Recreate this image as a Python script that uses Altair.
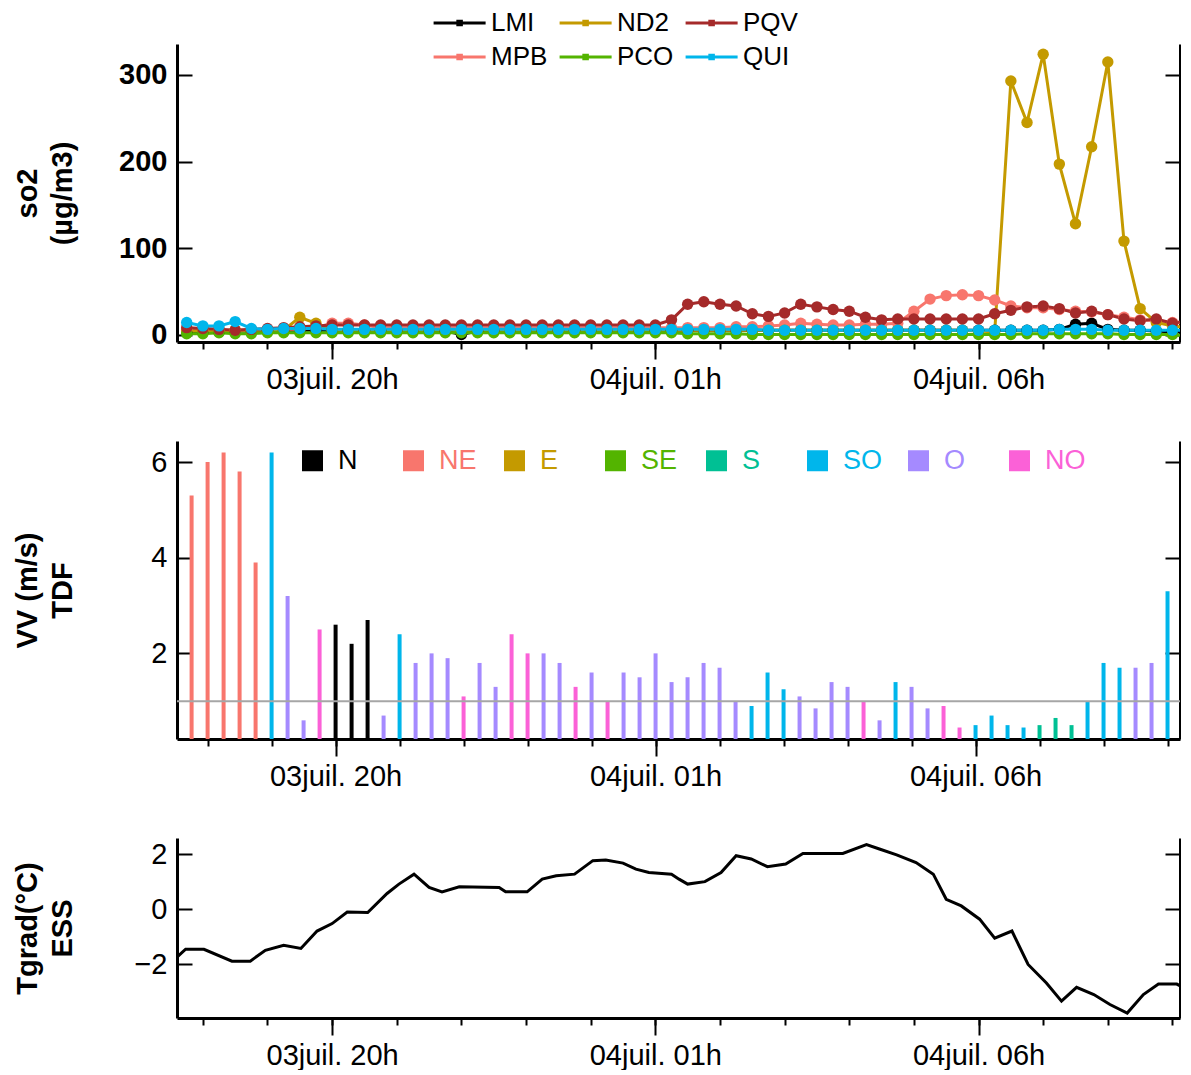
import altair as alt
import pandas as pd

FONT = "Liberation Sans"
W = 1003
H1, H2, H3 = 298, 298, 180

# ---------------- data ----------------
times = pd.date_range("2019-07-03 17:45", periods=63, freq="15min")
time_str = [t.strftime("%Y-%m-%dT%H:%M:%S") for t in times]

stations = ["LMI", "MPB", "ND2", "PCO", "PQV", "QUI"]
station_colors = ["#000000", "#F8766D", "#C49A00", "#53B400", "#A52A2A", "#00B6EB"]

LMI = [3, 3, 3, 4, 4, 5, 5, 5, 5,
       5, 5, 5, 5, 5, 5, 5, 4, 0,
       4, 5, 5, 5, 5, 5, 5, 5, 5,
       5, 5, 5, 5, 5, 5, 5, 5, 5,
       5, 5, 5, 5, 5, 5, 5, 5, 5,
       5, 5, 5, 5, 5, 5, 5, 5, 5,
       6, 12, 13, 6, 5, 5, 4, 3, 3]
MPB = [5, 5, 5, 5, 5, 6, 6, 6, 8,
       13, 13, 11, 8, 8, 8, 8, 8, 8,
       8, 8, 8, 8, 8, 8, 8, 8, 8,
       8, 8, 8, 8, 8, 8, 8, 9, 9,
       10, 11, 13, 12, 11, 11, 12, 12, 13,
       27, 41, 45, 46, 45, 40, 33, 31, 31,
       29, 27, 26, 23, 20, 17, 16, 14, 13]
ND2 = [4, 4, 4, 5, 5, 5, 5, 20, 13,
       5, 5, 5, 5, 5, 5, 5, 5, 5,
       5, 5, 5, 5, 5, 5, 5, 5, 5,
       5, 5, 5, 5, 5, 5, 5, 5, 5,
       5, 5, 5, 5, 5, 5, 5, 5, 5,
       5, 5, 5, 5, 4, 3, 293, 245, 324,
       197, 128, 217, 315, 108, 30, 14, 10, 8]
PCO = [1, 1, 2, 1, 1, 2, 2, 2, 2,
       2, 2, 2, 2, 2, 2, 2, 2, 2,
       2, 2, 2, 2, 2, 2, 2, 2, 2,
       2, 2, 2, 2, 1, 1, 1, 1, 0,
       0, 0, 0, 0, 0, 0, 0, 0, 0,
       0, 0, 0, 0, 0, 0, 0, 1, 1,
       1, 1, 1, 1, 0, 0, 0, 0, -2]
PQV = [8, 7, 6, 5, 6, 7, 8, 9, 10,
       11, 11, 11, 11, 11, 11, 11, 11, 11,
       11, 11, 11, 11, 11, 11, 11, 11, 11,
       11, 11, 11, 17, 35, 38, 35, 33, 24,
       21, 25, 35, 32, 29, 27, 20, 17, 18,
       18, 18, 18, 18, 18, 24, 28, 32, 33,
       30, 25, 27, 23, 18, 16, 18, 13, 16]
QUI = [14, 10, 10, 15, 7, 6, 7, 7, 7,
       6, 6, 6, 6, 6, 6, 6, 6, 6,
       6, 6, 6, 6, 6, 6, 6, 6, 6,
       6, 6, 6, 6, 6, 6, 6, 6, 6,
       5, 5, 5, 5, 5, 5, 5, 5, 5,
       5, 5, 5, 5, 5, 5, 5, 5, 5,
       6, 6, 6, 5, 5, 5, 5, 5, 5]
so2_series = {"LMI": LMI, "MPB": MPB, "ND2": ND2, "PCO": PCO, "PQV": PQV, "QUI": QUI}

wind_speed = [5.3, 6.0, 6.2, 5.8, 3.9, 6.2, 3.2, 0.6, 2.5,
              2.6, 2.2, 2.7, 0.7, 2.4, 1.8, 2.0, 1.9, 1.1,
              1.8, 1.3, 2.4, 2.0, 2.0, 1.8, 1.3, 1.6, 1.0,
              1.6, 1.5, 2.0, 1.4, 1.5, 1.8, 1.7, 1.0, 0.9,
              1.6, 1.25, 1.1, 0.85, 1.4, 1.3, 1.0, 0.6, 1.4,
              1.3, 0.85, 0.9, 0.45, 0.5, 0.7, 0.5, 0.45, 0.5,
              0.65, 0.5, 1.0, 1.8, 1.7, 1.7, 1.8, 3.3, 2.8]
wind_dir = ["NE", "NE", "NE", "NE", "NE", "SO", "O", "O", "NO",
            "N", "N", "N", "O", "SO", "O", "O", "O", "NO",
            "O", "O", "NO", "NO", "O", "O", "NO", "O", "NO",
            "O", "O", "O", "O", "O", "O", "O", "O", "SO",
            "SO", "SO", "O", "O", "O", "O", "NO", "O", "SO",
            "O", "O", "NO", "NO", "SO", "SO", "SO", "SO", "S",
            "S", "S", "SO", "SO", "SO", "O", "O", "SO", "O"]
dir_order = ["N", "NE", "E", "SE", "S", "SO", "O", "NO"]
dir_colors = ["#000000", "#F8766D", "#C49A00", "#53B400", "#00C094", "#00B6EB", "#A58AFF", "#FB61D7"]

tgrad_time = ["2019-07-03T17:37:00", "2019-07-03T17:44:00", "2019-07-03T18:01:00", "2019-07-03T18:27:00",
              "2019-07-03T18:44:00", "2019-07-03T18:58:00", "2019-07-03T19:15:00", "2019-07-03T19:31:00",
              "2019-07-03T19:46:00", "2019-07-03T20:00:00", "2019-07-03T20:14:00", "2019-07-03T20:33:00",
              "2019-07-03T20:51:00", "2019-07-03T21:02:00", "2019-07-03T21:16:00", "2019-07-03T21:30:00",
              "2019-07-03T21:42:00", "2019-07-03T21:58:00", "2019-07-03T22:35:00", "2019-07-03T22:41:00",
              "2019-07-03T23:01:00", "2019-07-03T23:15:00", "2019-07-03T23:28:00", "2019-07-03T23:45:00",
              "2019-07-04T00:02:00", "2019-07-04T00:14:00", "2019-07-04T00:30:00", "2019-07-04T00:42:00",
              "2019-07-04T00:54:00", "2019-07-04T01:15:00", "2019-07-04T01:22:00", "2019-07-04T01:30:00",
              "2019-07-04T01:46:00", "2019-07-04T02:01:00", "2019-07-04T02:15:00", "2019-07-04T02:29:00",
              "2019-07-04T02:44:00", "2019-07-04T03:01:00", "2019-07-04T03:17:00", "2019-07-04T03:54:00",
              "2019-07-04T04:16:00", "2019-07-04T04:28:00", "2019-07-04T04:44:00", "2019-07-04T05:02:00",
              "2019-07-04T05:18:00", "2019-07-04T05:30:00", "2019-07-04T05:44:00", "2019-07-04T06:01:00",
              "2019-07-04T06:15:00", "2019-07-04T06:31:00", "2019-07-04T06:46:00", "2019-07-04T07:03:00",
              "2019-07-04T07:17:00", "2019-07-04T07:31:00", "2019-07-04T07:47:00", "2019-07-04T08:02:00",
              "2019-07-04T08:18:00", "2019-07-04T08:33:00", "2019-07-04T08:47:00", "2019-07-04T09:04:00",
              "2019-07-04T09:16:00"]
tgrad_val = [-1.70, -1.45, -1.45, -1.88, -1.88, -1.49, -1.31, -1.42,
             -0.79, -0.52, -0.10, -0.12, 0.57, 0.91, 1.27, 0.79,
             0.63, 0.81, 0.79, 0.63, 0.63, 1.09, 1.21, 1.27,
             1.76, 1.78, 1.67, 1.45, 1.33, 1.27, 1.09, 0.91,
             1.00, 1.33, 1.94, 1.82, 1.54, 1.64, 2.02, 2.02,
             2.34, 2.18, 1.97, 1.69, 1.27, 0.36, 0.12, -0.36,
             -1.05, -0.79, -2.00, -2.67, -3.33, -2.83, -3.09, -3.45,
             -3.76, -3.09, -2.71, -2.71, -2.95]

so2_ticks = [0, 100, 200, 300]
vv_ticks = [2, 4, 6]
tg_ticks = [-2, 0, 2]

# ---------------- tables ----------------
rows = []
for s in stations:
    for t, v in zip(time_str, so2_series[s]):
        rows.append({"t": t, "station": s, "v": v})
df_so2 = pd.DataFrame(rows)
df_vv = pd.DataFrame({"t": time_str, "vv": wind_speed, "dir": wind_dir})
df_thr = pd.DataFrame({"thr": [1.0]})
df_tg = pd.DataFrame({"t": tgrad_time, "tg": tgrad_val})

# ---------------- axes helpers ----------------
x_scale = alt.Scale(domain=[alt.DateTime(year=2019, month=7, date=3, hours=17, minutes=36),
                            alt.DateTime(year=2019, month=7, date=4, hours=9, minutes=7)])
major_vals = [alt.DateTime(year=2019, month=7, date=3, hours=20),
              alt.DateTime(year=2019, month=7, date=4, hours=1),
              alt.DateTime(year=2019, month=7, date=4, hours=6)]
minor_vals = ([alt.DateTime(year=2019, month=7, date=3, hours=h) for h in range(18, 24)] +
              [alt.DateTime(year=2019, month=7, date=4, hours=h) for h in range(0, 10)])


def x_major():
    return alt.Axis(orient="bottom", values=major_vals, format="%djuil. %Hh", formatType="time",
                    tickSize=17, tickWidth=2, tickColor="black", domain=True, domainWidth=3,
                    domainColor="black", labelFont=FONT, labelFontSize=29, labelColor="black",
                    labelPadding=6, labelFlush=False, labelOverlap=False, grid=False, title=None)


def x_minor():
    return alt.Axis(orient="bottom", values=minor_vals, labels=False, tickSize=7, tickWidth=2,
                    tickColor="black", domain=False, grid=False, title=None)


def y_main(values, title, h, bold=False):
    return alt.Axis(orient="left", values=values, ticks=False, domain=True, domainWidth=3,
                    domainColor="black", labelFont=FONT, labelFontSize=29,
                    labelFontWeight="bold" if bold else "normal", labelColor="black",
                    labelPadding=10, grid=False, title=title, titleFont=FONT, titleFontSize=29,
                    titleFontWeight="bold", titleColor="black", titleAngle=270, titleX=-150,
                    titleY=h / 2, titleAlign="center", titleBaseline="middle", titleLineHeight=35)


def y_in_left(values):
    return alt.Axis(orient="right", offset=-W, values=values, labels=False, domain=False,
                    tickSize=15, tickWidth=2, tickColor="black", grid=False, title=None)


def y_in_right(values):
    return alt.Axis(orient="left", offset=-W, values=values, labels=False, domain=True,
                    domainWidth=3, domainColor="black", tickSize=15, tickWidth=2,
                    tickColor="black", grid=False, title=None)


def axis_layers(base, yfield, yscale, yvals):
    a = base.mark_point(opacity=0, clip=True).encode(
        x=alt.X("t:T", scale=x_scale, axis=x_minor()),
        y=alt.Y(yfield, scale=yscale, axis=y_in_left(yvals)))
    b = base.mark_point(opacity=0, clip=True).encode(
        x=alt.X("t:T", scale=x_scale, axis=None),
        y=alt.Y(yfield, scale=yscale, axis=y_in_right(yvals)))
    return a, b


# ---------------- panel 1: so2 ----------------
so2_scale = alt.Scale(domain=[-8.6, 335.8], nice=False, zero=False)
leg_path = "M-1,0L4,0M1.33,-0.17L1.67,-0.17L1.67,0.17L1.33,0.17Z"
base1 = alt.Chart(df_so2)
lines = base1.mark_line(strokeWidth=3, clip=True,
                        point=alt.OverlayMarkDef(filled=True, size=130, opacity=1, clip=True)).encode(
    x=alt.X("t:T", scale=x_scale, axis=x_major()),
    y=alt.Y("v:Q", scale=so2_scale, axis=y_main(so2_ticks, ["so2", "(µg/m3)"], H1, bold=True)),
    color=alt.Color("station:N", scale=alt.Scale(domain=stations, range=station_colors),
                    legend=alt.Legend(orient="none", legendX=254, legendY=-34, columns=3,
                                      title=None, symbolType=leg_path, symbolSize=433,
                                      symbolStrokeWidth=3, symbolOpacity=1,
                                      labelFont=FONT, labelFontSize=26, labelColor="black",
                                      labelOffset=34, columnPadding=5, rowPadding=8, padding=0)),
    detail="station:N",
)
a1, b1 = axis_layers(base1, "v:Q", so2_scale, so2_ticks)
p1 = alt.layer(lines, a1, b1).resolve_axis(x="independent", y="independent").properties(width=W, height=H1)

# ---------------- panel 2: wind ----------------
vv_scale = alt.Scale(domain=[0.21, 6.44], nice=False, zero=False)
base2 = alt.Chart(df_vv)
label_expr = ("datum.label == 'N' ? '#000000' : datum.label == 'NE' ? '#F8766D' : "
              "datum.label == 'E' ? '#C49A00' : datum.label == 'SE' ? '#53B400' : "
              "datum.label == 'S' ? '#00C094' : datum.label == 'SO' ? '#00B6EB' : "
              "datum.label == 'O' ? '#A58AFF' : '#FB61D7'")
bars = base2.mark_bar(width=4, clip=True).encode(
    x=alt.X("t:T", scale=x_scale, axis=x_major()),
    y=alt.Y("vv:Q", scale=vv_scale, axis=y_main(vv_ticks, ["VV (m/s)", "TDF"], H2)),
    y2=alt.datum(0),
    color=alt.Color("dir:N", scale=alt.Scale(domain=dir_order, range=dir_colors),
                    legend=alt.Legend(orient="none", legendX=122, legendY=6, columns=8,
                                      direction="horizontal", gridAlign="all", title=None,
                                      symbolType="square", symbolSize=441, symbolStrokeWidth=0,
                                      symbolOpacity=1, labelFont=FONT, labelFontSize=27,
                                      labelColor={"expr": label_expr}, labelOffset=12,
                                      columnPadding=21, padding=0)),
)
a2, b2 = axis_layers(base2, "vv:Q", vv_scale, vv_ticks)
thr = alt.Chart(df_thr).mark_rule(color="#A6A6A6", strokeWidth=2).encode(
    y=alt.Y("thr:Q", scale=vv_scale, axis=None))
p2 = alt.layer(bars, a2, b2, thr).resolve_axis(x="independent", y="independent").properties(width=W, height=H2)

# ---------------- panel 3: Tgrad ----------------
tg_scale = alt.Scale(domain=[-3.94, 2.58], nice=False, zero=False)
base3 = alt.Chart(df_tg)
tline = base3.mark_line(color="black", strokeWidth=3, clip=True).encode(
    x=alt.X("t:T", scale=x_scale, axis=x_major()),
    y=alt.Y("tg:Q", scale=tg_scale, axis=y_main(tg_ticks, ["Tgrad(°C)", "ESS"], H3)),
)
a3, b3 = axis_layers(base3, "tg:Q", tg_scale, tg_ticks)
p3 = alt.layer(tline, a3, b3).resolve_axis(x="independent", y="independent").properties(width=W, height=H3)

chart = (alt.vconcat(p1, p2, p3, spacing=47)
         .resolve_scale(color="independent")
         .resolve_legend(color="independent")
         .properties(padding={"left": 5, "right": 0, "top": 2, "bottom": 0}, background="white")
         .configure_view(stroke=None))

chart.save("out.html", embed_options={"renderer": "svg", "actions": False})
